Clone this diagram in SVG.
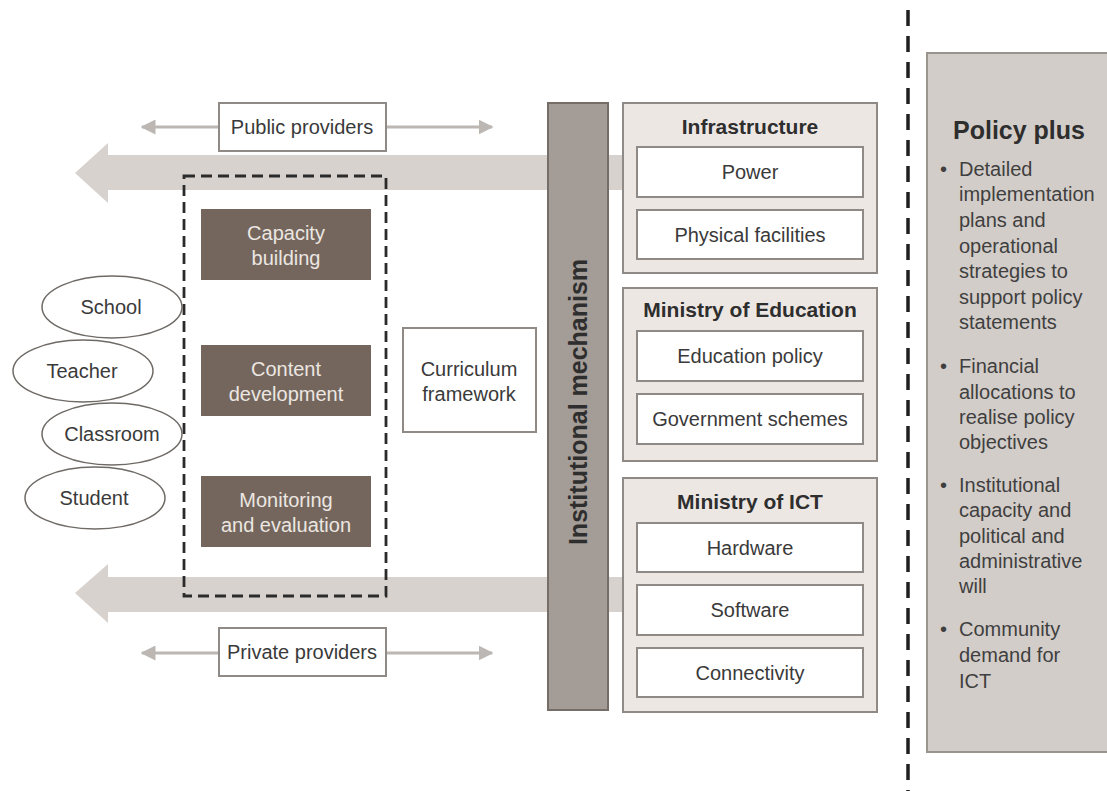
<svg xmlns="http://www.w3.org/2000/svg" width="1107" height="791" viewBox="0 0 1107 791">
<defs>
<style>
text{font-family:"Liberation Sans",Arial,sans-serif;}
.lbl{font-size:20px;fill:#3a3a3a;text-anchor:middle;}
.hd{font-size:21px;font-weight:bold;fill:#2e2e2e;text-anchor:middle;}
.dark rect{fill:#74665c;}
.dark text{font-size:20px;fill:#ece6e2;text-anchor:middle;}
.outer{fill:#ede7e4;stroke:#8f8a86;stroke-width:2;}
.inner{fill:#ffffff;stroke:#8f8a86;stroke-width:2;}
.ell{fill:#ffffff;stroke:#6e6a66;stroke-width:1.5;}
.big{fill:#d8d2ce;}
.thin{stroke:#bcb7b3;stroke-width:3;fill:none;}
.pp{font-size:20px;fill:#3f3f3f;}
</style>
<marker id="ah" viewBox="0 0 10 10" refX="9" refY="5" markerWidth="5" markerHeight="5" orient="auto-start-reverse" markerUnits="strokeWidth">
<path d="M0,0 L10,5 L0,10 z" fill="#bcb7b3"/>
</marker>
</defs>
<rect width="1107" height="791" fill="#ffffff"/>

<g id="connectors">
<polygon class="big" points="75,173 108,143 108,155 624,155 624,190 108,190 108,203"/>
<polygon class="big" points="75,593 108,564 108,577 624,577 624,612 108,612 108,623"/>
<line class="thin" x1="142" y1="127" x2="492" y2="127" marker-start="url(#ah)" marker-end="url(#ah)"/>
<line class="thin" x1="142" y1="653" x2="492" y2="653" marker-start="url(#ah)" marker-end="url(#ah)"/>
<line x1="908" y1="10" x2="908" y2="791" stroke="#1f1f1f" stroke-width="3.5" stroke-dasharray="16,10"/>
</g>

<g id="public-providers">
<rect x="219" y="103" width="167" height="48" class="inner"/>
<text x="302" y="134" class="lbl">Public providers</text>
</g>
<g id="private-providers">
<rect x="219" y="628" width="167" height="48" class="inner"/>
<text x="302" y="659" class="lbl">Private providers</text>
</g>

<g id="dashed-group">
<rect x="184" y="176" width="202" height="420" fill="none" stroke="#2b2b2b" stroke-width="2.8" stroke-dasharray="11,6"/>
</g>

<g id="capacity-building" class="dark">
<rect x="201" y="209" width="170" height="71"/>
<text x="286" y="240">Capacity</text>
<text x="286" y="265">building</text>
</g>
<g id="content-development" class="dark">
<rect x="201" y="345" width="170" height="71"/>
<text x="286" y="376">Content</text>
<text x="286" y="401">development</text>
</g>
<g id="monitoring-evaluation" class="dark">
<rect x="201" y="476" width="170" height="71"/>
<text x="286" y="507">Monitoring</text>
<text x="286" y="532">and evaluation</text>
</g>

<g id="school"><ellipse cx="112" cy="307" rx="70" ry="31" class="ell"/><text x="111" y="314" class="lbl">School</text></g>
<g id="teacher"><ellipse cx="83" cy="371" rx="70" ry="31" class="ell"/><text x="82" y="378" class="lbl">Teacher</text></g>
<g id="classroom"><ellipse cx="112" cy="434" rx="70" ry="31" class="ell"/><text x="112" y="441" class="lbl">Classroom</text></g>
<g id="student"><ellipse cx="95" cy="498" rx="70" ry="31" class="ell"/><text x="94" y="505" class="lbl">Student</text></g>

<g id="curriculum-framework">
<rect x="403" y="328" width="133" height="104" class="inner"/>
<text x="469" y="376" class="lbl">Curriculum</text>
<text x="469" y="401" class="lbl">framework</text>
</g>

<g id="institutional-mechanism">
<rect x="548" y="103" width="60" height="607" fill="#a49c96" stroke="#756d67" stroke-width="2"/>
<text transform="translate(587,402) rotate(-90)" font-size="25" font-weight="bold" fill="#2e2e2e" text-anchor="middle">Institutional mechanism</text>
</g>

<g id="infrastructure">
<rect x="623" y="103" width="254" height="170" class="outer"/>
<text x="750" y="134" class="hd">Infrastructure</text>
<rect x="637" y="147" width="226" height="50" class="inner"/>
<text x="750" y="179" class="lbl">Power</text>
<rect x="637" y="210" width="226" height="49" class="inner"/>
<text x="750" y="242" class="lbl">Physical facilities</text>
</g>

<g id="ministry-education">
<rect x="623" y="288" width="254" height="173" class="outer"/>
<text x="750" y="317" class="hd">Ministry of Education</text>
<rect x="637" y="331" width="226" height="50" class="inner"/>
<text x="750" y="363" class="lbl">Education policy</text>
<rect x="637" y="394" width="226" height="50" class="inner"/>
<text x="750" y="426" class="lbl">Government schemes</text>
</g>

<g id="ministry-ict">
<rect x="623" y="478" width="254" height="234" class="outer"/>
<text x="750" y="509" class="hd">Ministry of ICT</text>
<rect x="637" y="523" width="226" height="49" class="inner"/>
<text x="750" y="555" class="lbl">Hardware</text>
<rect x="637" y="585" width="226" height="50" class="inner"/>
<text x="750" y="617" class="lbl">Software</text>
<rect x="637" y="648" width="226" height="49" class="inner"/>
<text x="750" y="680" class="lbl">Connectivity</text>
</g>

<g id="policy-plus">
<rect x="927" y="53" width="190" height="699" fill="#d3cdc9" stroke="#9a948f" stroke-width="2"/>
<text x="953" y="139" font-size="25" font-weight="bold" fill="#2e2e2e">Policy plus</text>
<g class="pp">
<text x="940" y="176">•</text>
<text x="959" y="176">Detailed</text>
<text x="959" y="201">implementation</text>
<text x="959" y="227">plans and</text>
<text x="959" y="253">operational</text>
<text x="959" y="278">strategies to</text>
<text x="959" y="304">support policy</text>
<text x="959" y="329">statements</text>
<text x="940" y="373">•</text>
<text x="959" y="373">Financial</text>
<text x="959" y="399">allocations to</text>
<text x="959" y="424">realise policy</text>
<text x="959" y="449">objectives</text>
<text x="940" y="492">•</text>
<text x="959" y="492">Institutional</text>
<text x="959" y="517">capacity and</text>
<text x="959" y="543">political and</text>
<text x="959" y="568">administrative</text>
<text x="959" y="593">will</text>
<text x="940" y="636">•</text>
<text x="959" y="636">Community</text>
<text x="959" y="662">demand for</text>
<text x="959" y="688">ICT</text>
</g>
</g>
</svg>
